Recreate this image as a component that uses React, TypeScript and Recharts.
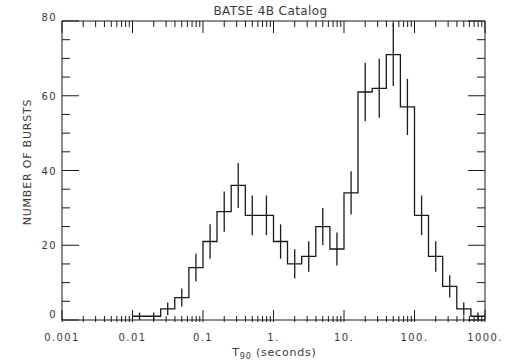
import React from 'react';
import { ComposedChart, Line, Scatter, ErrorBar, XAxis, YAxis, Label, ReferenceLine } from 'recharts';

// T90 histogram, 0.2-decade bins
const binEdges = [0.01, 0.0158, 0.0251, 0.0398, 0.0631, 0.1, 0.158, 0.251, 0.398, 0.631, 1, 1.58, 2.51, 3.98, 6.31, 10, 15.8, 25.1, 39.8, 63.1, 100, 158, 251, 398, 631, 1000];
const binCenters = [0.0126, 0.02, 0.0316, 0.05, 0.0794, 0.126, 0.2, 0.316, 0.5, 0.794, 1.26, 2, 3.16, 5, 7.94, 12.6, 20, 31.6, 50, 79.4, 126, 200, 316, 500, 794];
const burstCounts = [1, 1, 3, 6, 14, 21, 29, 36, 28, 28, 21, 15, 17, 25, 19, 34, 61, 62, 71, 57, 28, 17, 9, 3, 1];
const countErrors = [1, 1, 1.7, 2.4, 3.7, 4.6, 5.4, 6, 5.3, 5.3, 4.6, 3.9, 4.1, 5, 4.4, 5.8, 7.8, 7.9, 8.4, 7.5, 5.3, 4.1, 3, 1.7, 1];

const xMajorTicks = [0.001, 0.01, 0.1, 1, 10, 100, 1000];
const xTickLabels = ['0.001', '0.01', '0.1', '1.', '10.', '100.', '1000.'];
const yMajorTicks = [0, 20, 40, 60, 80];
const yMinorTicks = [5, 10, 15, 25, 30, 35, 45, 50, 55, 65, 70, 75];

const xMinorTicks: number[] = [];
xMajorTicks.slice(0, -1).forEach((d) => {
  [2, 3, 4, 5, 6, 7, 8, 9].forEach((m) => xMinorTicks.push(+(d * m).toPrecision(3)));
});
const xAllTicks = [...xMajorTicks, ...xMinorTicks].sort((a, b) => a - b);
const yAllTicks = [...yMajorTicks, ...yMinorTicks].sort((a, b) => a - b);

const stepData = binEdges.map((t, i) => ({ t, n: burstCounts[Math.min(i, burstCounts.length - 1)] }));
const errData = binCenters.map((t, i) => ({ t, n: burstCounts[i], err: countErrors[i] }));

const INK = '#1a1a1a';
const TXT = '#3a3a3a';
const FONT = '"DejaVu Sans", sans-serif';

// plot box
const W = 505;
const H = 361;
const M = { top: 21, right: 20, bottom: 0, left: 0 };
const PLOT_TOP = M.top;
const PLOT_RIGHT = W - M.right;

// IDL-style inward ticks on both sides, drawn from the tick callbacks
const XTick = (p: any) => {
  const v = p.payload.value;
  const i = xMajorTicks.indexOf(v);
  const len = i >= 0 ? 12 : 6;
  return (
    <g>
      <line x1={p.x} x2={p.x} y1={p.y} y2={p.y - len} stroke={INK} />
      <line x1={p.x} x2={p.x} y1={PLOT_TOP} y2={PLOT_TOP + len} stroke={INK} />
      {i >= 0 && (
        <text x={p.x} y={p.y + 19} textAnchor="middle" fontSize={10} letterSpacing={1.4} fill={TXT} fontFamily={FONT}>
          {xTickLabels[i]}
        </text>
      )}
    </g>
  );
};

const YTick = (p: any) => {
  const v = p.payload.value;
  const major = yMajorTicks.includes(v);
  const len = major ? 17 : 8;
  const dy = v === 0 ? -2 : v === 80 ? 0 : 4;
  return (
    <g>
      <line x1={p.x} x2={p.x + len} y1={p.y} y2={p.y} stroke={INK} />
      <line x1={PLOT_RIGHT} x2={PLOT_RIGHT - len} y1={p.y} y2={p.y} stroke={INK} />
      {major && (
        <text x={p.x - 5} y={p.y + dy} textAnchor="end" fontSize={10} letterSpacing={1.4} fill={TXT} fontFamily={FONT}>
          {v}
        </text>
      )}
    </g>
  );
};

export default function App() {
  return (
    <div style={{ position: 'absolute', left: 0, top: 0, width: W, height: H, background: '#fff' }}>
      <div style={{ position: 'absolute', left: 0, width: 541, top: 4, textAlign: 'center', fontFamily: FONT, fontSize: 12, letterSpacing: 0.4, color: TXT }}>
        BATSE 4B Catalog
      </div>
      <ComposedChart width={W} height={H} margin={M}>
        <XAxis xAxisId="x" dataKey="t" type="number" scale="log" domain={[0.001, 1000]} allowDataOverflow
          ticks={xAllTicks} interval={0} height={41} tickSize={0} tickLine={false}
          axisLine={{ stroke: INK }} tick={<XTick />}>
          <Label content={(lp: any) => {
            const vb = lp.viewBox;
            return (
              <text x={vb.x + vb.width / 2 + 1} y={vb.y + 36} textAnchor="middle" fontSize={11} letterSpacing={0.8} fill={TXT} fontFamily={FONT}>
                T<tspan fontSize={8} dy={3}>90</tspan><tspan dy={-3}> (seconds)</tspan>
              </text>
            );
          }} />
        </XAxis>
        <YAxis yAxisId="y" dataKey="n" type="number" domain={[0, 80]} allowDataOverflow
          ticks={yAllTicks} interval={0} width={62} tickSize={0} tickMargin={0} tickLine={false}
          axisLine={{ stroke: INK }} tick={<YTick />}>
          <Label content={() => {
            const cx = 27.5;
            const cy = 162;
            return (
              <text x={cx} y={cy} transform={`rotate(-90 ${cx} ${cy})`} textAnchor="middle" dominantBaseline="central" fontSize={11} letterSpacing={0.8} fill={TXT} fontFamily={FONT}>
                NUMBER OF BURSTS
              </text>
            );
          }} />
        </YAxis>

        <ReferenceLine xAxisId="x" yAxisId="y" y={80} stroke={INK} />
        <ReferenceLine xAxisId="x" yAxisId="y" x={1000} stroke={INK} />

        <Line xAxisId="x" yAxisId="y" data={stepData} dataKey="n" type="stepAfter" stroke={INK} strokeWidth={1.3}
          dot={false} activeDot={false} isAnimationActive={false} />
        <Scatter xAxisId="x" yAxisId="y" data={errData} dataKey="n" shape={() => <g />} isAnimationActive={false}>
          <ErrorBar dataKey="err" direction="y" width={0} stroke={INK} strokeWidth={1.3} isAnimationActive={false} />
        </Scatter>
      </ComposedChart>
    </div>
  );
}
